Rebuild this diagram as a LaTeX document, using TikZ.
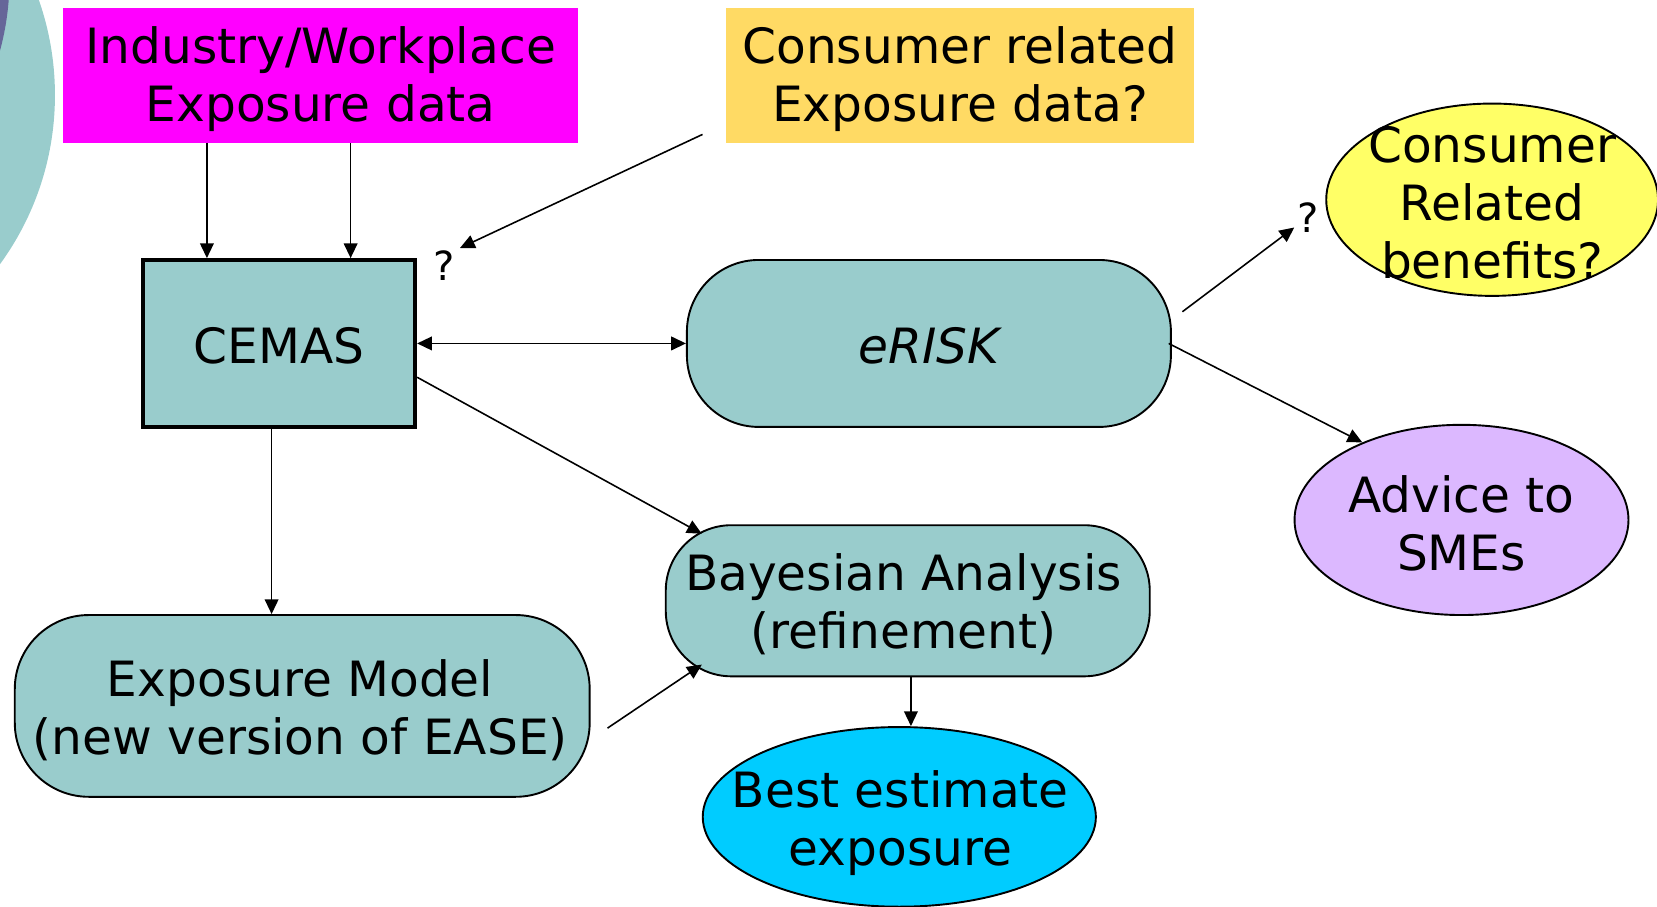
\documentclass[tikz,border=0pt]{standalone}
\usepackage{fontspec}
\setmainfont{DejaVu Sans}
\usetikzlibrary{arrows.meta,shapes.geometric,calc}
\definecolor{tealc}{RGB}{153,204,204}
\definecolor{purplec}{RGB}{102,102,153}
\definecolor{magc}{RGB}{255,0,255}
\definecolor{goldc}{RGB}{255,218,100}
\definecolor{yelc}{RGB}{255,255,102}
\definecolor{lavc}{RGB}{220,184,255}
\definecolor{cyanc}{RGB}{0,204,255}
\newcommand\bigtxt{\fontsize{46pt}{55pt}\selectfont}
\newcommand\qtxt{\fontsize{38pt}{42pt}\selectfont}
\begin{document}
\begin{tikzpicture}[x=1pt,y=-1pt,
  rbox/.style={draw=black, line width=1.8pt, fill=tealc, rounded corners=#1, inner sep=0pt, align=center, font=\bigtxt},
  plainbox/.style={inner sep=0pt},
  oval/.style={ellipse, draw=black, line width=1.8pt, inner sep=0pt},
  txt/.style={inner sep=0pt, align=center, font=\bigtxt},
  qmark/.style={inner sep=1pt, font=\qtxt},
  arr/.style={line width=1.5pt, -{Triangle[length=14pt,width=13pt]}},
  darr/.style={line width=1.5pt, {Triangle[length=14pt,width=13pt]}-{Triangle[length=14pt,width=13pt]}}
]
\useasboundingbox (0,0) rectangle (1568,858);
\begin{scope}
\clip (0,0) rectangle (1568,858);
\fill[tealc] (-220,90) circle[radius=272];
\fill[purplec] (-250,-20) circle[radius=259];

\node[plainbox, fill=magc, minimum width=487pt, minimum height=127pt] (ind) at (303.5,71.5) {};
\node[txt] (indt) at (303.5,75) {Industry/Workplace\\Exposure data};
\node[plainbox, fill=goldc, minimum width=443pt, minimum height=127pt] (cons) at (908.5,71.5) {};
\node[txt] (const) at (908.5,75) {Consumer related\\Exposure data?};

\node[rbox=0pt, line width=3.5pt, minimum width=258pt, minimum height=158pt] (cemas) at (264,325) {};
\node[txt] (cemast) at (264,327) {CEMAS};
\node[rbox=68pt, minimum width=458pt, minimum height=158pt] (erisk) at (879,325) {};
\node[txt] (eriskt) at (879,327) {\itshape eRISK};
\node[rbox=70pt, minimum width=544pt, minimum height=172pt] (expm) at (286,668) {};
\node[txt] (expmt) at (284,672) {Exposure Model\\(new version of EASE)};
\node[rbox=62pt, minimum width=458pt, minimum height=143pt] (bay) at (859,568.5) {};
\node[txt] (bayt) at (855,572) {Bayesian Analysis\\(refinement)};

\node[oval, fill=yelc, minimum width=314pt, minimum height=182pt] (cb) at (1412,189) {};
\node[txt] (cbt) at (1412,192) {Consumer\\Related\\benefits?};
\node[oval, fill=lavc, minimum width=316pt, minimum height=180pt] (adv) at (1383,492) {};
\node[txt] (advt) at (1383,495) {Advice to\\SMEs};
\node[oval, fill=cyanc, minimum width=372pt, minimum height=170pt] (best) at (851,773) {};
\node[txt] (bestt) at (852,779) {Best estimate\\exposure};

\node[qmark] (q1) at (420,251) {?};
\node[qmark] (q2) at (1238,206) {?};

\draw[arr] ([xshift=136pt]ind.south west) -- ([xshift=136pt]ind.south west |- cemas.north);
\draw[arr] ([xshift=272pt]ind.south west) -- ([xshift=272pt]ind.south west |- cemas.north);
\draw[arr] ([xshift=-22pt,yshift=8pt]cons.south west) -- ([xshift=4pt,yshift=1pt]q1.north east);
\draw[darr] (cemas.east) -- (erisk.west);
\draw[arr] ([xshift=10pt,yshift=30pt]erisk.east) -- ([xshift=-2pt,yshift=6pt]q2.south west);
\draw[arr] ([xshift=-3pt]erisk.east) -- (adv.142);
\draw[arr] ([xshift=-7pt]cemas.south) -- ([xshift=-7pt]cemas.south |- expm.north);
\draw[arr] ([yshift=-32pt]cemas.east) -- ([xshift=35pt,yshift=-9pt]bay.north west);
\draw[arr] ([xshift=16pt,yshift=-21pt]expm.east) -- ([xshift=35pt,yshift=12pt]bay.south west);
\draw[arr] ([xshift=3pt]bay.south) -- ([xshift=3pt]bay.south |- best.north);
\end{scope}
\end{tikzpicture}
\end{document}
